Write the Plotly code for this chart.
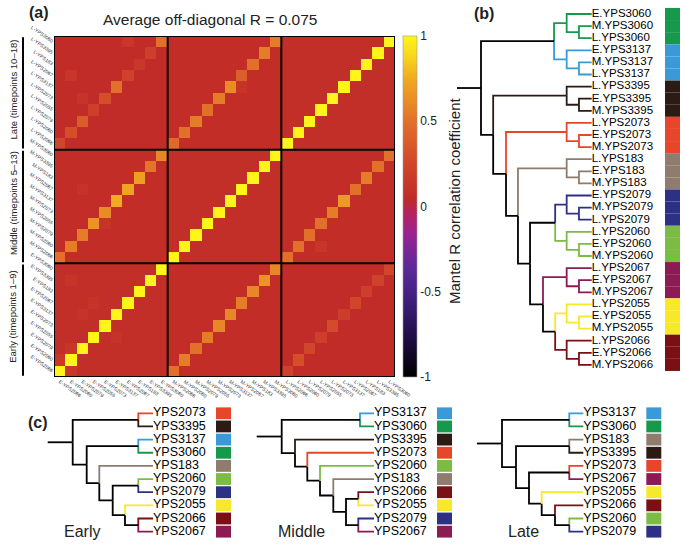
import plotly.graph_objects as go

W, H = 685, 546
FONT = "Liberation Sans"

# ---------------- data: panel (a) ----------------
strains_axis = ["YPS2066", "YPS2060", "YPS2079", "YPS2055", "YPS2073",
                "YPS3137", "YPS2067", "YPS183", "YPS3395", "YPS3060"]
periods = ["E", "M", "L"]
period_titles = ["Early (timepoints 1–9)", "Middle (timepoints 5–13)", "Late (timepoints 10–18)"]

# same-strain values of each (row period, column period) block, ordered as strains_axis
diag_E_E = [1.0, 1.0, 1.0, 1.0, 1.0, 1.0, 1.0, 1.0, 1.0, 1.0]
diag_E_M = [0.50, 0.55, 0.50, 0.55, 0.60, 0.60, 0.55, 0.60, 0.65, 0.60]
diag_E_L = [0.22, 0.30, 0.25, 0.20, 0.28, 0.18, 0.25, 0.20, 0.22, 0.25]
diag_M_E = [0.50, 0.55, 0.55, 0.65, 0.62, 0.75, 0.72, 0.70, 0.52, 0.60]
diag_M_M = [1.0, 1.0, 1.0, 1.0, 1.0, 1.0, 1.0, 1.0, 1.0, 1.0]
diag_M_L = [0.50, 0.50, 0.50, 0.50, 0.55, 0.68, 0.50, 0.55, 0.50, 0.50]
diag_L_E = [0.25, 0.30, 0.38, 0.20, 0.30, 0.50, 0.22, 0.32, 0.20, 0.50]
diag_L_M = [0.45, 0.50, 0.55, 0.50, 0.55, 0.62, 0.40, 0.50, 0.55, 0.55]
diag_L_L = [1.0, 1.0, 1.0, 1.0, 1.0, 1.0, 1.0, 1.0, 1.0, 1.0]

# typical different-strain value in each block (rows E, M, L; cols E, M, L)
block_base = [[0.07, 0.06, 0.05],
              [0.06, 0.07, 0.06],
              [0.05, 0.06, 0.07]]
# a few noticeably lighter different-strain cells (row, col, R)
light_cells = [(1, 0, 0.15), (0, 1, 0.14), (2, 1, 0.13), (5, 2, 0.12), (8, 1, 0.12),
               (6, 3, 0.12), (29, 6, 0.13), (27, 7, 0.14), (24, 2, 0.12), (26, 1, 0.13),
               (16, 2, 0.12), (13, 4, 0.12), (25, 16, 0.12), (11, 23, 0.13), (3, 5, 0.12)]

avg_title = "Average off-diagonal R = 0.075"
cbar_ticks = [-1, -0.5, 0, 0.5, 1]
cbar_ticktext = ["-1", "-0.5", "0", "0.5", "1"]

# ---------------- data: strains & colours ----------------
strain_colors = {
    "YPS3060": "#16994b", "YPS3137": "#3a9ad8", "YPS3395": "#2b1b14",
    "YPS2073": "#e8462b", "YPS183": "#8f7c6e", "YPS2079": "#2c3186",
    "YPS2060": "#7cbc45", "YPS2067": "#8c1b54", "YPS2055": "#f8e82a",
    "YPS2066": "#7a1015",
}

# ---------------- data: panel (b) tree (node, left, right, height) ----------------
merges_b = [
    ("b1", "M.YPS3060", "L.YPS3060", 0.115), ("b2", "E.YPS3060", "b1", 0.226),
    ("b3", "M.YPS3137", "L.YPS3137", 0.115), ("b4", "E.YPS3137", "b3", 0.226),
    ("b5", "b2", "b4", 0.34),
    ("b6", "E.YPS3395", "M.YPS3395", 0.115), ("b7", "L.YPS3395", "b6", 0.226),
    ("b8", "E.YPS2073", "M.YPS2073", 0.115), ("b9", "L.YPS2073", "b8", 0.226),
    ("b10", "E.YPS183", "M.YPS183", 0.115), ("b11", "L.YPS183", "b10", 0.226),
    ("b12", "M.YPS2079", "L.YPS2079", 0.115), ("b13", "E.YPS2079", "b12", 0.226),
    ("b14", "E.YPS2060", "M.YPS2060", 0.115), ("b15", "L.YPS2060", "b14", 0.226),
    ("b16", "b13", "b15", 0.33),
    ("b17", "E.YPS2067", "M.YPS2067", 0.115), ("b18", "L.YPS2067", "b17", 0.226),
    ("b19", "E.YPS2055", "M.YPS2055", 0.115), ("b20", "L.YPS2055", "b19", 0.226),
    ("b21", "E.YPS2066", "M.YPS2066", 0.115), ("b22", "L.YPS2066", "b21", 0.226),
    ("b23", "b20", "b22", 0.33),
    ("b24", "b18", "b23", 0.44),
    ("b25", "b16", "b24", 0.557),
    ("b26", "b11", "b25", 0.666),
    ("b27", "b9", "b26", 0.774),
    ("b28", "b7", "b27", 0.89),
    ("b29", "b5", "b28", 1.0),
]
stub_b = 1.217

# ---------------- data: panel (c) trees ----------------
merges_early = [
    ("e1", "YPS2073", "YPS3395", 14.7), ("e2", "YPS3137", "YPS3060", 14.7),
    ("e3", "YPS2060", "YPS2079", 14.7), ("e4", "YPS2066", "YPS2067", 14.7),
    ("e5", "YPS2055", "e4", 28.0), ("e6", "e3", "e5", 40.3),
    ("e7", "YPS183", "e6", 53.7), ("e8", "e2", "e7", 66.3), ("e9", "e1", "e8", 80.3),
]
merges_middle = [
    ("m1", "YPS3137", "YPS3060", 14.0), ("m2", "YPS2066", "YPS2055", 15.7),
    ("m3", "YPS2079", "YPS2067", 15.7), ("m4", "m2", "m3", 28.0),
    ("m5", "YPS183", "m4", 40.7), ("m6", "YPS2060", "m5", 54.0),
    ("m7", "YPS2073", "m6", 66.7), ("m8", "YPS3395", "m7", 79.0), ("m9", "m1", "m8", 92.3),
]
merges_late = [
    ("l1", "YPS3137", "YPS3060", 14.0), ("l2", "YPS183", "YPS3395", 14.0),
    ("l3", "YPS2073", "YPS2067", 14.0), ("l4", "YPS2060", "YPS2079", 14.0),
    ("l5", "YPS2066", "l4", 28.3), ("l6", "YPS2055", "l5", 41.6),
    ("l7", "l3", "l6", 54.3), ("l8", "l2", "l7", 67.3), ("l9", "l1", "l8", 81.3),
]
stub_c = 25.0
c_titles = ["Early", "Middle", "Late"]

# ---------------- helpers ----------------
def px_x(p):
    return p / W


def px_y(p):
    return 1 - p / H


def tree_layout(merges):
    children = {m[0]: (m[1], m[2]) for m in merges}
    height = {m[0]: m[3] for m in merges}
    root = merges[-1][0]
    order = []

    def walk(n):
        if n in children:
            walk(children[n][0])
            walk(children[n][1])
        else:
            order.append(n)
    walk(root)
    pos = {leaf: (0.0, float(i)) for i, leaf in enumerate(order)}

    def place(n):
        if n in pos:
            return pos[n]
        a = place(children[n][0])
        b = place(children[n][1])
        pos[n] = (height[n], (a[1] + b[1]) / 2)
        return pos[n]
    place(root)
    return order, pos, children, root


def strain_of(leaf):
    return leaf.split(".")[-1]


def tree_traces(merges, stub, xa, ya, label_size, lw=1.8):
    order, pos, children, root = tree_layout(merges)

    def leaves(n):
        if n not in children:
            return [n]
        return leaves(children[n][0]) + leaves(children[n][1])

    def color(n):
        s = {strain_of(l) for l in leaves(n)}
        return strain_colors[s.pop()] if len(s) == 1 else "#000000"

    segs = {}
    for node, (a, b) in children.items():
        hx, hy = pos[node]
        for c in (a, b):
            cx, cy = pos[c]
            col = color(c)
            xs, ys = segs.setdefault(col, ([], []))
            xs += [hx, hx, cx, None]
            ys += [hy, cy, cy, None]
    rx, ry = pos[root]
    xs, ys = segs.setdefault("#000000", ([], []))
    xs += [rx, stub, None]
    ys += [ry, ry, None]
    traces = []
    for col, (xs, ys) in segs.items():
        traces.append(go.Scatter(x=xs, y=ys, mode="lines", xaxis=xa, yaxis=ya,
                                 line=dict(color=col, width=lw), hoverinfo="skip"))
    traces.append(go.Scatter(x=[0.0] * len(order), y=[pos[l][1] for l in order],
                             mode="text", text=order, textposition="middle right",
                             textfont=dict(size=label_size, color="black", family=FONT),
                             xaxis=xa, yaxis=ya, hoverinfo="skip"))
    return order, pos, traces


fig = go.Figure()

# ---------------- panel (a) heatmap ----------------
diag_blocks = [[diag_E_E, diag_E_M, diag_E_L],
               [diag_M_E, diag_M_M, diag_M_L],
               [diag_L_E, diag_L_M, diag_L_L]]
n = len(strains_axis)
N = n * len(periods)
z = [[0.0] * N for _ in range(N)]
for rp in range(3):
    for cp in range(3):
        for i in range(n):
            for j in range(n):
                z[rp * n + i][cp * n + j] = block_base[rp][cp]
        for k in range(n):
            z[rp * n + k][cp * n + k] = diag_blocks[rp][cp][k]
for r, c, v in light_cells:
    z[r][c] = v

labels = [f"{p}-{s}" for p in periods for s in strains_axis]
cscale = [[0.0, "#000000"], [0.10, "#1b0a3c"], [0.22, "#3c1f7a"], [0.32, "#5b2a9b"],
          [0.42, "#9a2391"], [0.48, "#b52260"], [0.52, "#c02a28"], [0.62, "#d0442a"],
          [0.75, "#e2702a"], [0.87, "#f0a822"], [0.95, "#f8dc1c"], [1.0, "#fff51a"]]

fig.add_trace(go.Heatmap(
    z=z, x=list(range(N)), y=list(range(N)), zmin=-1, zmax=1, colorscale=cscale,
    xaxis="x", yaxis="y", hoverinfo="skip",
    colorbar=dict(x=px_x(403), xanchor="left", y=px_y(36), yanchor="top",
                  len=341 / H, lenmode="fraction", thickness=14, thicknessmode="pixels",
                  tickvals=cbar_ticks, ticktext=cbar_ticktext, ticks="",
                  outlinewidth=0.6, outlinecolor="#999999", xpad=0, ypad=0,
                  tickfont=dict(size=12, family=FONT, color="#222222")),
))

shapes = []
for b in (n - 0.5, 2 * n - 0.5):
    shapes.append(dict(type="line", xref="x", yref="y", x0=b, x1=b, y0=-0.5, y1=N - 0.5,
                       line=dict(color="black", width=2)))
    shapes.append(dict(type="line", xref="x", yref="y", y0=b, y1=b, x0=-0.5, x1=N - 0.5,
                       line=dict(color="black", width=2)))
shapes.append(dict(type="rect", xref="x", yref="y", x0=-0.5, x1=N - 0.5, y0=-0.5, y1=N - 0.5,
                   line=dict(color="black", width=2)))

annotations = []
for p in range(3):
    shapes.append(dict(type="line", xref="paper", yref="y", x0=px_x(23), x1=px_x(23),
                       y0=p * n - 0.4, y1=p * n + n - 0.6, line=dict(color="black", width=2)))
    annotations.append(dict(text=period_titles[p], xref="paper", yref="y", x=px_x(13),
                            y=p * n + (n - 1) / 2 + 0.3, textangle=-90, showarrow=False,
                            xanchor="center", yanchor="middle",
                            font=dict(size=9.5, family=FONT, color="#222222")))

# ---------------- panel (b) ----------------
b_leaf_px, b_unit_px = 591.7, 110.7
b_y0_px, b_step_px = 14.0, 12.1
order_b, pos_b, tr_b = tree_traces(merges_b, stub_b, "x2", "y2", 11.5)
for t in tr_b:
    fig.add_trace(t)
fig.add_trace(go.Bar(orientation="h", y=[pos_b[l][1] for l in order_b],
                     x=[-15 / b_unit_px] * len(order_b), base=(b_leaf_px - 665) / b_unit_px,
                     width=1.0, marker=dict(color=[strain_colors[strain_of(l)] for l in order_b],
                                            line=dict(width=0)),
                     xaxis="x2", yaxis="y2", hoverinfo="skip"))

# ---------------- panel (c) ----------------
c_leaf_px = [153.0, 374.0, 583.3]
c_dom_px = [(30, 240), (245, 460), (465, 685)]
c_title_px = [62, 276, 506]
c_y0_px, c_step_px = 413.3, 13.15
for k, merges in enumerate([merges_early, merges_middle, merges_late]):
    xa, ya = f"x{k + 3}", f"y{k + 3}"
    order_c, pos_c, tr_c = tree_traces(merges, stub_c + merges[-1][3], xa, ya, 12.5)
    for t in tr_c:
        fig.add_trace(t)
    fig.add_trace(go.Bar(orientation="h", y=[pos_c[l][1] for l in order_c],
                         x=[-15.0] * len(order_c), base=-63.0, width=0.9,
                         marker=dict(color=[strain_colors[l] for l in order_c], line=dict(width=0)),
                         xaxis=xa, yaxis=ya, hoverinfo="skip"))
    annotations.append(dict(text=c_titles[k], xref="paper", yref="paper",
                            x=px_x(c_title_px[k]), y=px_y(531), xanchor="left", yanchor="middle",
                            showarrow=False, font=dict(size=16, family=FONT, color="#222222")))

# ---------------- layout ----------------
ax_hidden = dict(visible=False, fixedrange=True)
layout = dict(
    width=W, height=H, autosize=False, margin=dict(l=0, r=0, t=0, b=0, pad=0),
    showlegend=False, paper_bgcolor="white", plot_bgcolor="white", font=dict(family=FONT),
    xaxis=dict(domain=[px_x(54), px_x(395)], range=[-0.5, N - 0.5], tickvals=list(range(N)),
               ticktext=labels, tickangle=35, tickfont=dict(size=5, color="#333333"),
               showgrid=False, zeroline=False, ticks="", showline=False, automargin=False),
    yaxis=dict(domain=[px_y(377), px_y(36)], range=[-0.5, N - 0.5], tickvals=list(range(N)),
               ticktext=labels, tickangle=35, tickfont=dict(size=5, color="#333333"),
               showgrid=False, zeroline=False, ticks="", showline=False, automargin=False),
    xaxis2=dict(domain=[px_x(440), 1.0], anchor="y2",
                range=[(b_leaf_px - 440) / b_unit_px, (b_leaf_px - 685) / b_unit_px], **ax_hidden),
    yaxis2=dict(domain=[px_y(378), px_y(2)], anchor="x2",
                range=[(378 - b_y0_px) / b_step_px, (2 - b_y0_px) / b_step_px], **ax_hidden),
    shapes=shapes,
)
for k in range(3):
    d0, d1 = c_dom_px[k]
    layout[f"xaxis{k + 3}"] = dict(domain=[px_x(d0), px_x(d1)], anchor=f"y{k + 3}",
                                   range=[c_leaf_px[k] - d0, c_leaf_px[k] - d1], **ax_hidden)
    layout[f"yaxis{k + 3}"] = dict(domain=[px_y(545), px_y(400)], anchor=f"x{k + 3}",
                                   range=[(545 - c_y0_px) / c_step_px, (400 - c_y0_px) / c_step_px],
                                   **ax_hidden)

annotations += [
    dict(text=avg_title, xref="paper", yref="paper", x=px_x(210), y=px_y(20),
         xanchor="center", yanchor="middle",
         showarrow=False, font=dict(size=15.5, family=FONT, color="#222222")),
    dict(text="<b>(a)</b>", xref="paper", yref="paper", x=px_x(27), y=px_y(12),
         xanchor="left", yanchor="middle",
         showarrow=False, font=dict(size=16, family=FONT, color="#222222")),
    dict(text="<b>(b)</b>", xref="paper", yref="paper", x=px_x(472), y=px_y(13),
         xanchor="left", yanchor="middle",
         showarrow=False, font=dict(size=16, family=FONT, color="#222222")),
    dict(text="<b>(c)</b>", xref="paper", yref="paper", x=px_x(26), y=px_y(422),
         xanchor="left", yanchor="middle",
         showarrow=False, font=dict(size=16, family=FONT, color="#222222")),
    dict(text="Mantel R correlation coefficient", xref="paper", yref="paper", x=px_x(454),
         y=px_y(201), textangle=-90, showarrow=False, xanchor="center", yanchor="middle",
         font=dict(size=15, family=FONT, color="#222222")),
]
layout["annotations"] = annotations
fig.update_layout(**layout)
fig.write_html("out.html", config={"responsive": False, "displayModeBar": False},
               post_script="document.body.style.margin='0px';")
